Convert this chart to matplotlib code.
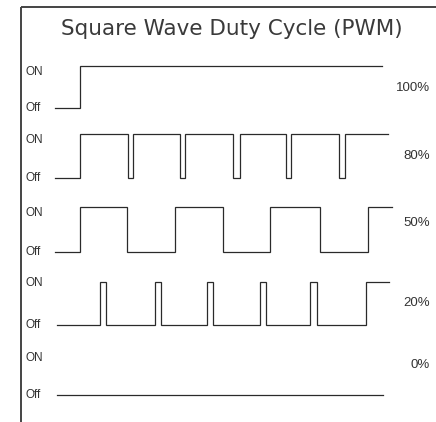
import matplotlib.pyplot as plt

# duty cycle labels, top to bottom
duty_labels = ['100%', '80%', '50%', '20%', '0%']

# each waveform: start time, end time and the times where the level flips (starts Off)
wave_start = [55, 55, 55, 57, 57]
wave_end = [382, 388, 392, 389, 383]
wave_edges = [
    [80],
    [80, 128, 133, 180, 185, 233, 240, 286, 291, 339, 345],
    [80, 127, 175, 223, 270, 320, 368],
    [100, 106, 155, 161, 207, 213, 260, 266, 310, 317, 366],
    [],
]

# layout of the rows (pixel rows of the picture)
row_off = [108, 178, 252, 325, 395]
row_on = [66, 134, 207, 282, 353]
on_label_y = [72, 140, 213, 283, 358]
pct_label_y = [88, 156, 223, 303, 365]

W, H = 436, 422
fig = plt.figure(figsize=(W / 100, H / 100), dpi=100)
ax = fig.add_axes([0, 0, 1, 1])
ax.set_xlim(0, W)
ax.set_ylim(H, 0)
ax.axis('off')

line_col = '#2a2a2a'
txt_col = '#333333'

# frame: left and top border
ax.plot([21, 21], [7, H], color='#444444', lw=1.4, solid_capstyle='butt')
ax.plot([21, W], [7, 7], color='#444444', lw=1.4, solid_capstyle='butt')

ax.text(232, 29, 'Square Wave Duty Cycle (PWM)', ha='center', va='center',
        fontsize=15.5, family='DejaVu Sans', color='#3a3a3a')

for i, lab in enumerate(duty_labels):
    xs = [wave_start[i]]
    ys = [0]
    level = 0
    for e in wave_edges[i]:
        xs += [e, e]
        ys += [level, 1 - level]
        level = 1 - level
    xs.append(wave_end[i])
    ys.append(level)
    ypix = [row_off[i] + v * (row_on[i] - row_off[i]) for v in ys]
    ax.plot(xs, ypix, color=line_col, lw=0.9, solid_joinstyle='miter')

    ax.text(25, on_label_y[i], 'ON', ha='left', va='center', fontsize=8.5,
            family='Liberation Sans', color=txt_col)
    ax.text(25, row_off[i], 'Off', ha='left', va='center', fontsize=8.5,
            family='Liberation Sans', color=txt_col)
    ax.text(430, pct_label_y[i], lab, ha='right', va='center', fontsize=9.5,
            family='Liberation Sans', color=txt_col)

fig.savefig('out.png', dpi=100)
